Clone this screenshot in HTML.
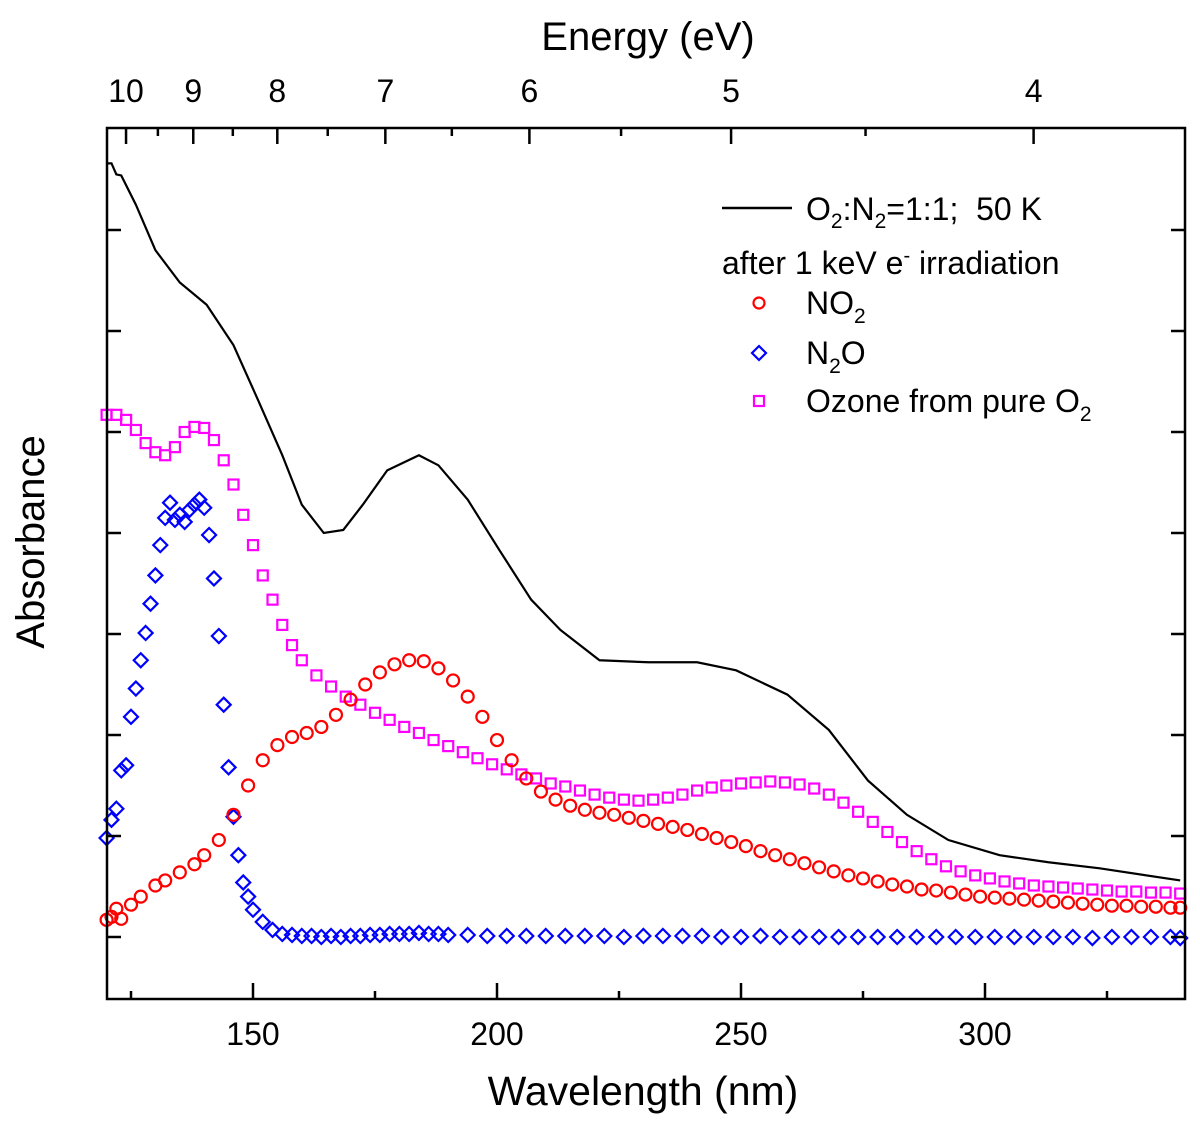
<!DOCTYPE html>
<html><head><meta charset="utf-8"><style>
html,body{margin:0;padding:0;background:#fff;}
svg{display:block;font-family:"Liberation Sans",Arial,sans-serif;}
</style></head><body>
<svg id="chart" width="1200" height="1126" viewBox="0 0 1200 1126" xmlns="http://www.w3.org/2000/svg">
<g id="marks"></g>
<rect x="107" y="128" width="1078" height="871" fill="none" stroke="#000" stroke-width="2.5"/>
<g id="axes"></g>
<text x="643" y="1105" font-size="41" text-anchor="middle">Wavelength (nm)</text>
<text x="648" y="50" font-size="40" text-anchor="middle">Energy (eV)</text>
<text transform="translate(44,542) rotate(-90)" font-size="40" text-anchor="middle">Absorbance</text>
<g>
<line x1="722" y1="208" x2="792" y2="208" stroke="#000" stroke-width="2.5"/>
<text x="806" y="220" font-size="32">O<tspan font-size="21" dy="8">2</tspan><tspan dy="-8">:N</tspan><tspan font-size="21" dy="8">2</tspan><tspan dy="-8" xml:space="preserve">=1:1;  50 K</tspan></text>
<text x="722" y="274" font-size="32">after 1 keV e<tspan font-size="20" dy="-12">-</tspan><tspan dy="12"> irradiation</tspan></text>
<circle cx="759" cy="303" r="5.5" fill="none" stroke="#f00" stroke-width="2.2"/>
<text x="806" y="314" font-size="32">NO<tspan font-size="21" dy="9">2</tspan></text>
<path d="M759 346 L766 353 L759 360 L752 353 Z" fill="none" stroke="#00f" stroke-width="2.2"/>
<text x="806" y="364" font-size="32">N<tspan font-size="21" dy="9">2</tspan><tspan dy="-9">O</tspan></text>
<rect x="754" y="396" width="10" height="10" fill="none" stroke="#f0f" stroke-width="2.2"/>
<text x="806" y="412" font-size="32">Ozone from pure O<tspan font-size="21" dy="9">2</tspan></text>
</g>
</svg>
<script>
const blackNm=[120,121,122,123,126,130,135,140.5,146,151,156,160,164.5,168.5,172.5,177.5,184,188,194,200.5,207,213,221,231,241,249,259.5,268,276,284,292.5,303,313,323.5,340];
const blackVal=[7.66,7.66,7.55,7.54,7.25,6.8,6.48,6.26,5.86,5.32,4.77,4.28,4.0,4.03,4.28,4.62,4.77,4.67,4.33,3.83,3.34,3.04,2.74,2.72,2.72,2.64,2.40,2.05,1.55,1.21,0.96,0.81,0.74,0.68,0.56];
const redNm=[120,121,122,123,125,127,130,132,135,138,140,143,146,149,152,155,158,161,164,167,170,173,176,179,182,185,188,191,194,197,200,203,206,209,212,215,218,221,224,227,230,233,236,239,242,245,248,251,254,257,260,263,266,269,272,275,278,281,284,287,290,293,296,299,302,305,308,311,314,317,320,323,326,329,332,335,338,340];
const redVal=[0.17,0.2,0.28,0.18,0.32,0.4,0.51,0.56,0.64,0.72,0.81,0.96,1.21,1.5,1.75,1.9,1.98,2.02,2.08,2.2,2.35,2.5,2.62,2.7,2.74,2.73,2.66,2.54,2.38,2.18,1.95,1.75,1.57,1.44,1.36,1.3,1.26,1.23,1.21,1.18,1.15,1.12,1.09,1.06,1.02,0.98,0.94,0.9,0.85,0.81,0.77,0.73,0.69,0.65,0.61,0.58,0.55,0.52,0.5,0.47,0.46,0.44,0.42,0.4,0.39,0.38,0.37,0.36,0.35,0.34,0.33,0.32,0.31,0.31,0.3,0.3,0.29,0.29];
const ozNm=[120,122,124,126,128,130,132,134,136,138,140,142,144,146,148,150,152,154,156,158,160,163,166,169,172,175,178,181,184,187,190,193,196,199,202,205,208,211,214,217,220,223,226,229,232,235,238,241,244,247,250,253,256,259,262,265,268,271,274,277,280,283,286,289,292,295,298,301,304,307,310,313,316,319,322,325,328,331,334,337,340];
const ozVal=[5.17,5.17,5.12,5.02,4.89,4.8,4.77,4.85,5.0,5.05,5.04,4.92,4.72,4.48,4.18,3.88,3.58,3.34,3.09,2.89,2.74,2.59,2.48,2.38,2.3,2.22,2.15,2.08,2.02,1.95,1.89,1.83,1.77,1.71,1.66,1.61,1.57,1.52,1.49,1.45,1.41,1.38,1.36,1.35,1.36,1.38,1.41,1.45,1.48,1.5,1.52,1.53,1.54,1.53,1.51,1.47,1.41,1.33,1.24,1.14,1.04,0.94,0.85,0.77,0.7,0.65,0.61,0.58,0.55,0.53,0.51,0.5,0.49,0.48,0.47,0.46,0.45,0.45,0.44,0.44,0.43];
const n2oNm=[120,121,122,123,124,125,126,127,128,129,130,131,132,133,134,135,136,137,138,139,140,141,142,143,144,145,146,147,148,149,150,152,154,156,158,160,162,164,166,168,170,172,174,176,178,180,182,184,186,188,190,194,198,202,206,210,214,218,222,226,230,234,238,242,246,250,254,258,262,266,270,274,278,282,286,290,294,298,302,306,310,314,318,322,326,330,334,338,340];
const n2oVal=[0.98,1.16,1.27,1.65,1.7,2.18,2.46,2.74,3.01,3.3,3.58,3.88,4.15,4.3,4.13,4.18,4.11,4.23,4.28,4.33,4.25,3.98,3.55,2.98,2.3,1.68,1.19,0.81,0.54,0.4,0.27,0.15,0.07,0.03,0.02,0.01,0.01,0.0,0.01,0.0,0.01,0.01,0.02,0.02,0.03,0.03,0.03,0.04,0.03,0.03,0.02,0.02,0.01,0.01,0.01,0.01,0.01,0.01,0.01,0.0,0.01,0.01,0.01,0.01,0.0,0.0,0.01,0.0,0.0,0.0,0.0,0.0,0.0,0.0,0.0,0.0,0.0,0.0,0.0,0.0,0.0,0.0,0.0,-0.01,0.0,0.0,0.0,0.0,-0.01];
const xTicks=[150,200,250,300];
const xMinor=[125,175,225,275,325];
const eTicks=[10,9,8,7,6,5,4];
const eMinor=[9.5,8.5,7.5,6.5,5.5,4.5,3.5];
const yTicks=[0,1,2,3,4,5,6,7];

const NS="http://www.w3.org/2000/svg";
const X=nm=>253+(nm-150)*4.88;
const Y=v=>937-v*101;
const marks=document.getElementById('marks');
const axes=document.getElementById('axes');
function mk(tag,attrs,parent){const e=document.createElementNS(NS,tag);for(const k in attrs)e.setAttribute(k,attrs[k]);parent.appendChild(e);return e;}

ozNm.forEach((n,i)=>{const e=mk('rect',{x:X(n)-5,y:Y(ozVal[i])-5,width:10,height:10,fill:'none',stroke:'#f0f','stroke-width':2.2},marks);

});
n2oNm.forEach((n,i)=>{const cx=X(n),cy=Y(n2oVal[i]);const e=mk('path',{d:`M${cx} ${cy-7}L${cx+7} ${cy}L${cx} ${cy+7}L${cx-7} ${cy}Z`,fill:'none',stroke:'#00f','stroke-width':2.2},marks);

});
redNm.forEach((n,i)=>{const e=mk('circle',{cx:X(n),cy:Y(redVal[i]),r:6,fill:'none',stroke:'#f00','stroke-width':2.2},marks);

});
const bl=mk('polyline',{points:blackNm.map((n,i)=>X(n)+','+Y(blackVal[i])).join(' '),fill:'none',stroke:'#000','stroke-width':2.2},marks);



xTicks.forEach(t=>{const x=X(t);mk('line',{x1:x,y1:999,x2:x,y2:983,stroke:'#000','stroke-width':2.5},axes);
const tx=mk('text',{x:x,y:1045,'font-size':32,'text-anchor':'middle'},axes);tx.textContent=t;

});
xMinor.forEach(t=>{const x=X(t);mk('line',{x1:x,y1:999,x2:x,y2:991,stroke:'#000','stroke-width':2.5},axes);});
eTicks.forEach(t=>{const x=X(1239.84/t);mk('line',{x1:x,y1:128,x2:x,y2:144,stroke:'#000','stroke-width':2.5},axes);
const tx=mk('text',{x:x,y:102,'font-size':32,'text-anchor':'middle'},axes);tx.textContent=t;

});
eMinor.forEach(t=>{const x=X(1239.84/t);if(x<1185)mk('line',{x1:x,y1:128,x2:x,y2:136,stroke:'#000','stroke-width':2.5},axes);});
yTicks.forEach(t=>{const y=Y(t);mk('line',{x1:107,y1:y,x2:121,y2:y,stroke:'#000','stroke-width':2.5},axes);
mk('line',{x1:1185,y1:y,x2:1171,y2:y,stroke:'#000','stroke-width':2.5},axes);});
</script>
</body></html>
